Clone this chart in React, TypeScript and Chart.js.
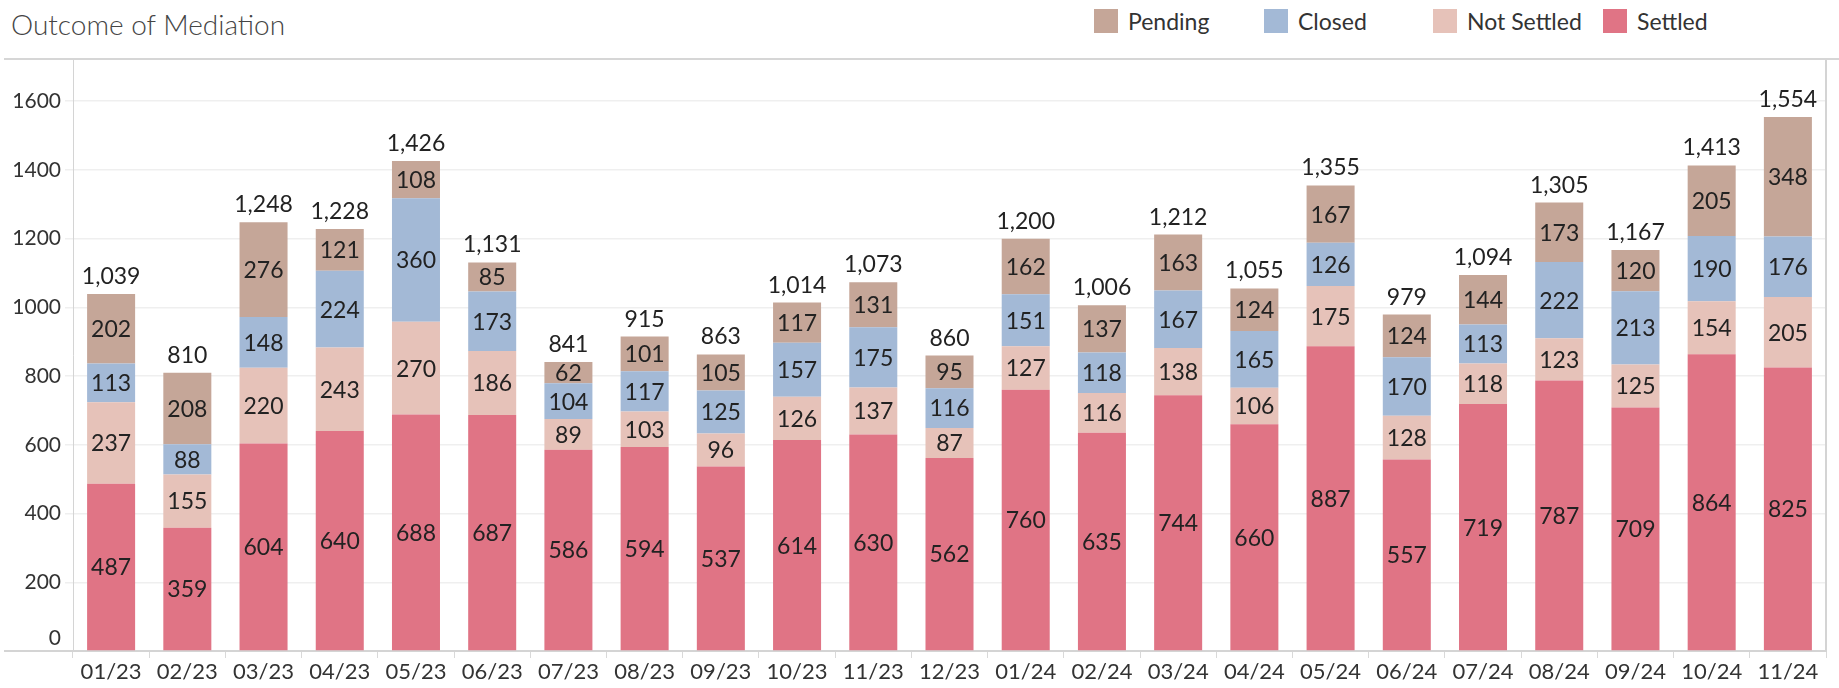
import React, { useEffect, useRef } from 'react';
import { Chart, registerables } from 'chart.js';

Chart.register(...registerables);

const months = ['01/23','02/23','03/23','04/23','05/23','06/23','07/23','08/23','09/23','10/23','11/23','12/23','01/24','02/24','03/24','04/24','05/24','06/24','07/24','08/24','09/24','10/24','11/24'];
const settled = [487,359,604,640,688,687,586,594,537,614,630,562,760,635,744,660,887,557,719,787,709,864,825];
const notSettled = [237,155,220,243,270,186,89,103,96,126,137,87,127,116,138,106,175,128,118,123,125,154,205];
const closed = [113,88,148,224,360,173,104,117,125,157,175,116,151,118,167,165,126,170,113,222,213,190,176];
const pending = [202,208,276,121,108,85,62,101,105,117,131,95,162,137,163,124,167,124,144,173,120,205,348];
const yTickValues = [0,200,400,600,800,1000,1200,1400,1600];
const yMax = 1720;

const COLOR_SETTLED = '#E07485';
const COLOR_NOT_SETTLED = '#E6C2B9';
const COLOR_CLOSED = '#A3B9D6';
const COLOR_PENDING = '#C5A698';

const legendItems = [
  { label: 'Pending', color: COLOR_PENDING, x: 1094 },
  { label: 'Closed', color: COLOR_CLOSED, x: 1264 },
  { label: 'Not Settled', color: COLOR_NOT_SETTLED, x: 1433 },
  { label: 'Settled', color: COLOR_SETTLED, x: 1603 },
];

const FONT = 'Lato, "Noto Sans", sans-serif';

const labelPlugin = {
  id: 'barLabels',
  afterDatasetsDraw(chart: any) {
    const ctx = chart.ctx;
    ctx.save();
    ctx.font = '23px ' + FONT;
    ctx.fillStyle = '#222222';
    ctx.textAlign = 'center';
    ctx.textBaseline = 'middle';
    const n = chart.data.datasets.length;
    for (let di = 0; di < n; di++) {
      const ds = chart.data.datasets[di];
      const meta = chart.getDatasetMeta(di);
      meta.data.forEach((bar: any, i: number) => {
        const p = bar.getProps(['x', 'y', 'base'], true);
        ctx.fillText(String(ds.data[i]), p.x, (p.y + p.base) / 2 + 1);
      });
    }
    const topMeta = chart.getDatasetMeta(n - 1);
    ctx.textBaseline = 'alphabetic';
    topMeta.data.forEach((bar: any, i: number) => {
      let total = 0;
      for (let di = 0; di < n; di++) total += chart.data.datasets[di].data[i];
      const p = bar.getProps(['x', 'y'], true);
      ctx.fillText(total.toLocaleString('en-US'), p.x, p.y - 10);
    });
    ctx.restore();
  },
  afterDraw(chart: any) {
    const ctx = chart.ctx;
    const a = chart.chartArea;
    ctx.save();
    ctx.strokeStyle = '#d4d4d4';
    ctx.lineWidth = 2;
    ctx.beginPath();
    ctx.moveTo(a.right, a.top);
    ctx.lineTo(a.right, a.bottom);
    ctx.stroke();
    ctx.beginPath();
    ctx.moveTo(4, a.bottom);
    ctx.lineTo(a.left, a.bottom);
    ctx.stroke();
    ctx.restore();
  },
};

export default function App() {
  const ref = useRef<HTMLCanvasElement | null>(null);

  useEffect(() => {
    document.body.style.margin = '0';
    const canvas = ref.current;
    if (!canvas) return;
    const chart = new Chart(canvas, {
      type: 'bar',
      data: {
        labels: months,
        datasets: [
          { label: 'Settled', data: settled, backgroundColor: COLOR_SETTLED, barPercentage: 0.63, categoryPercentage: 1 },
          { label: 'Not Settled', data: notSettled, backgroundColor: COLOR_NOT_SETTLED, barPercentage: 0.63, categoryPercentage: 1 },
          { label: 'Closed', data: closed, backgroundColor: COLOR_CLOSED, barPercentage: 0.63, categoryPercentage: 1 },
          { label: 'Pending', data: pending, backgroundColor: COLOR_PENDING, barPercentage: 0.63, categoryPercentage: 1 },
        ],
      },
      options: {
        animation: false,
        responsive: false,
        maintainAspectRatio: false,
        layout: { padding: { top: 60, right: 13, left: 0, bottom: 0 } },
        plugins: {
          legend: { display: false },
          title: { display: false },
          tooltip: { enabled: false },
        },
        scales: {
          x: {
            stacked: true,
            afterFit(scale: any) { scale.height = 37; },
            grid: {
              display: true,
              drawOnChartArea: false,
              drawTicks: true,
              tickLength: 7,
              color: '#d9d9d9',
              offset: true,
            },
            border: { display: true, color: '#d4d4d4', width: 2 },
            ticks: {
              autoSkip: false,
              maxRotation: 0,
              minRotation: 0,
              padding: 1,
              color: '#333333',
              font: { family: FONT, size: 22 },
            },
          },
          y: {
            stacked: true,
            min: 0,
            max: yMax,
            afterFit(scale: any) { scale.width = 73; },
            afterBuildTicks(scale: any) {
              scale.ticks = yTickValues.map((v) => ({ value: v }));
            },
            grid: {
              color: '#efefef',
              lineWidth: 1.5,
              tickLength: 8,
            },
            border: { display: true, color: '#d4d4d4', width: 1 },
            ticks: {
              padding: 4,
              color: '#333333',
              font: { family: FONT, size: 21 },
              callback: (v: any) => (v === 0 ? ['0', ''] : String(v)),
            },
          },
        },
      },
      plugins: [labelPlugin],
    });
    return () => chart.destroy();
  }, []);

  return (
    <div style={{ position: 'fixed', left: 0, top: 0, width: 1839, height: 688, background: '#ffffff', overflow: 'hidden' }}>
      <div style={{ position: 'absolute', left: 11, top: 10, fontFamily: FONT, fontSize: 28, lineHeight: '28px', fontWeight: 300, color: '#454545', whiteSpace: 'nowrap' }}>
        Outcome of Mediation
      </div>
      {legendItems.map((it) => (
        <div key={it.label} style={{ position: 'absolute', left: it.x, top: 9, height: 24, display: 'flex', alignItems: 'flex-start' }}>
          <div style={{ width: 24, height: 24, background: it.color }} />
          <div style={{ marginLeft: 10, fontFamily: FONT, fontSize: 23, lineHeight: '24px', color: '#333333', whiteSpace: 'nowrap' }}>
            {it.label}
          </div>
        </div>
      ))}
      <div style={{ position: 'absolute', left: 4, right: 0, top: 58, height: 2, background: '#d6d6d6' }} />
      <canvas ref={ref} width={1839} height={688} style={{ position: 'absolute', left: 0, top: 0, width: 1839, height: 688 }} />
    </div>
  );
}
